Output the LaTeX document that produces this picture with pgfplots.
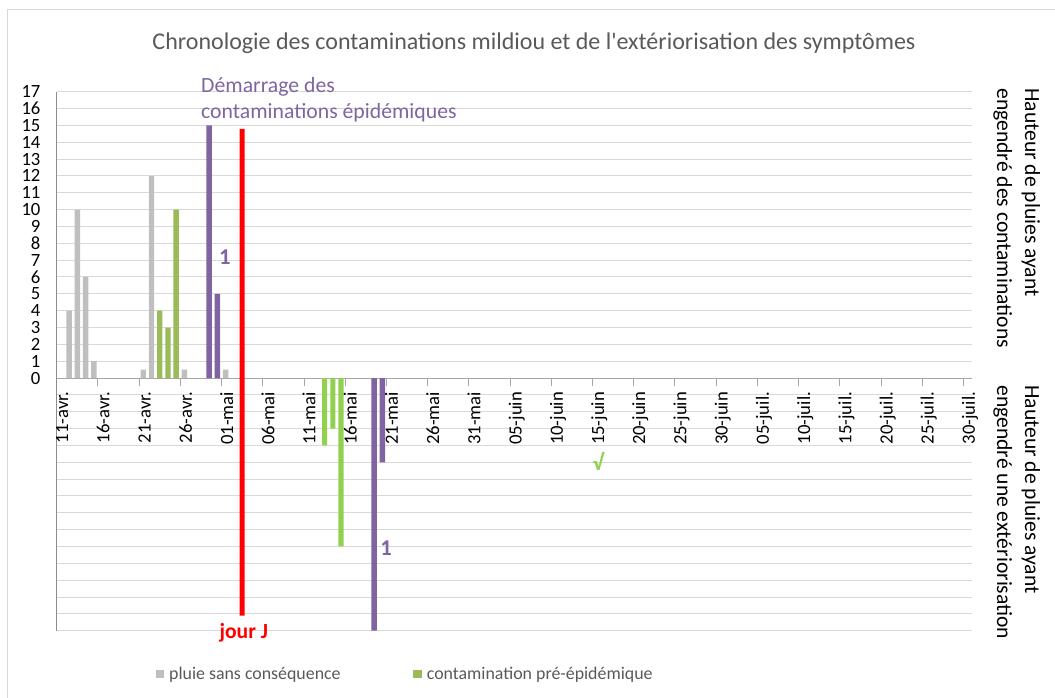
\documentclass[border=0pt]{standalone}
\usepackage{fontspec}
\setmainfont{Carlito}[Ligatures=TeXOff]
\usepackage{pgfplots}
\pgfplotsset{compat=1.18}
\definecolor{cgray}{HTML}{BFBFBF}
\definecolor{colive}{HTML}{9BBB59}
\definecolor{cgreen}{HTML}{92D050}
\definecolor{cpurple}{HTML}{8064A2}
\definecolor{ctext}{HTML}{595959}
\definecolor{cgrid}{HTML}{D9D9D9}
\definecolor{caxis}{HTML}{A6A6A6}
\definecolor{cyaxis}{HTML}{8C8C8C}
\begin{document}
\begin{tikzpicture}
\path[use as bounding box] (0,0) rectangle (791.25pt,522.75pt);
\begin{scope}[x=0.75pt,y=-0.75pt,shift={(0pt,522.75pt)}]
\draw[cgrid, line width=0.75pt] (7,10) rectangle (1070,720);
\end{scope}
\begin{axis}[
  at={(42.525pt,49.725pt)}, anchor=south west,
  scale only axis, width=686.25pt, height=404.25pt,
  xmin=0, xmax=111, ymin=-15, ymax=17,
  axis x line=middle, axis y line=left,
  axis line style={-},
  x axis line style={draw=caxis, line width=0.75pt},
  y axis line style={draw=cyaxis, line width=0.75pt},
  hide obscured x ticks=false, hide obscured y ticks=false,
  xtick={0,5,...,110},
  xticklabels={},
  xtick align=outside,
  x tick style={draw=caxis, line width=0.75pt},
  major tick length=6pt,
  ytick={-15,-14,-13,-12,-11,-10,-9,-8,-7,-6,-5,-4,-3,-2,-1,0,1,2,3,4,5,6,7,8,9,10,11,12,13,14,15,16,17},
  yticklabels={,,,,,,,,,,,,,,,0,1,2,3,4,5,6,7,8,9,10,11,12,13,14,15,16,17},
  y tick style={draw=none},
  ymajorgrids, grid style={cgrid, line width=0.75pt},
  tick label style={font=\fontsize{14}{14}\selectfont},
  yticklabel style={inner sep=0pt, anchor=east, xshift=-9pt},
  clip=false,
  legend columns=2,
  legend style={at={(0.108,-0.0803)}, anchor=west, draw=none, fill=none,
    inner sep=0pt, nodes={inner sep=0pt, text=ctext},
    font=\fontsize{13.4}{13}\selectfont,
    /tikz/every odd column/.append style={column sep=3.75pt},
    /tikz/every even column/.append style={column sep=54.6pt}},
]
\addplot[ybar, bar width=4.1pt, bar shift=0pt, fill=cgray, draw=none,
  legend image code/.code={\fill[cgray] (0pt,-3.3pt) rectangle (6.3pt,3.3pt);}]
  coordinates {(1.5,4) (2.5,10) (3.5,6) (4.5,1) (10.5,0.5) (11.5,12) (15.5,0.5) (20.5,0.5)};
\addlegendentry{pluie sans conséquence}
\addplot[ybar, bar width=4.1pt, bar shift=0pt, fill=colive, draw=none,
  legend image code/.code={\fill[colive] (0pt,-3.3pt) rectangle (6.3pt,3.3pt);}]
  coordinates {(12.5,4) (13.5,3) (14.5,10)};
\addlegendentry{contamination pré-épidémique}
\addplot[ybar, bar width=4.1pt, bar shift=0pt, fill=cpurple, draw=none, forget plot]
  coordinates {(18.5,15) (19.5,5)};
\addplot[ybar, bar width=3.75pt, bar shift=0pt, fill=red, draw=none, forget plot]
  coordinates {(22.5,14.8) (22.5,-14.1)};
\addplot[ybar, bar width=3.9pt, bar shift=0pt, fill=cgreen, draw=none, forget plot]
  coordinates {(32.5,-4) (33.5,-3) (34.5,-10)};
\addplot[ybar, bar width=4.1pt, bar shift=0pt, fill=cpurple, draw=none, forget plot]
  coordinates {(38.5,-15) (39.5,-5)};
\node[anchor=base west, inner sep=0pt, text=cpurple, font=\fontsize{16.3}{16}\selectfont] at (axis cs:17.5,16.97) {Démarrage des};
\node[anchor=base west, inner sep=0pt, text=cpurple, font=\fontsize{16.3}{16}\selectfont] at (axis cs:17.5,15.42) {contaminations épidémiques};
\node[inner sep=0pt, text=cpurple, font=\bfseries\fontsize{17}{17}\selectfont] at (axis cs:20.4,7.16) {1};
\node[inner sep=0pt, text=cpurple, font=\bfseries\fontsize{17}{17}\selectfont] at (axis cs:39.95,-10.07) {1};
\node[inner sep=0pt, text=cgreen, font=\bfseries\fontsize{17}{17}\selectfont] at (axis cs:65.7,-4.93) {√};
\node[anchor=base, inner sep=0pt, text=red, font=\bfseries\fontsize{16.2}{16}\selectfont] at (axis cs:22.7,-15.44) {jour J};
\end{axis}
\begin{scope}[x=0.75pt,y=-0.75pt,shift={(0pt,522.75pt)}]
\foreach \lab [count=\i from 0] in {11-avr.,16-avr.,21-avr.,26-avr.,01-mai,06-mai,11-mai,16-mai,21-mai,26-mai,31-mai,05-juin,10-juin,15-juin,20-juin,25-juin,30-juin,05-juil.,10-juil.,15-juil.,20-juil.,25-juil.,30-juil.}
  {\node[rotate=90, anchor=base east, inner sep=0pt, font=\fontsize{14}{14}\selectfont] at ({56.7+41.215*\i+11.5},391.7) {\lab};}
\node[anchor=base, inner sep=0pt, text=ctext, font=\fontsize{18}{18}\selectfont] at (534,50) {Chronologie des contaminations mildiou et de l'extériorisation des symptômes};
\node[rotate=-90, anchor=base west, inner sep=0pt, font=\fontsize{16.2}{16}\selectfont] at (1025,88) {Hauteur de pluies ayant};
\node[rotate=-90, anchor=base west, inner sep=0pt, font=\fontsize{16.2}{16}\selectfont] at (997,88) {engendré des contaminations};
\node[rotate=-90, anchor=base west, inner sep=0pt, font=\fontsize{16.2}{16}\selectfont] at (1025,385) {Hauteur de pluies ayant};
\node[rotate=-90, anchor=base west, inner sep=0pt, font=\fontsize{16.2}{16}\selectfont] at (997,385) {engendré une extériorisation};
\end{scope}
\end{tikzpicture}
\end{document}
